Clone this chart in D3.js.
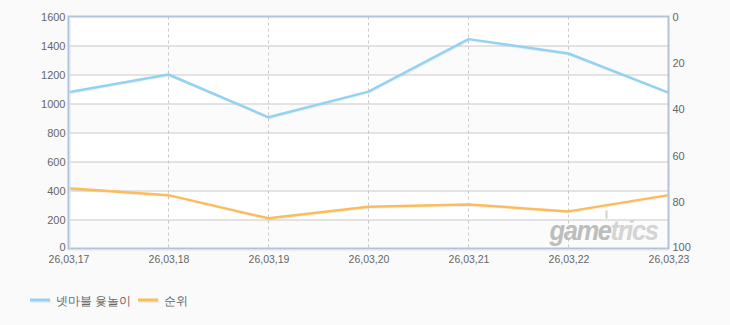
<!DOCTYPE html>
<html><head><meta charset="utf-8">
<script src="https://cdn.jsdelivr.net/npm/d3@7"></script>
<style>
html,body{margin:0;padding:0;background:#fafafa;}
svg{display:block;}
text{font-family:"Liberation Sans",Arial,sans-serif;}
</style></head>
<body>
<script>
const categories = ["26,03,17","26,03,18","26,03,19","26,03,20","26,03,21","26,03,22","26,03,23"];
const playersValues = [1078, 1200, 905, 1082, 1444, 1345, 1075];
const rankValues = [74, 77, 87, 82, 81, 84, 77];
const leftTicks = [0,200,400,600,800,1000,1200,1400,1600];
const rightTicks = [0,20,40,60,80,100];
const seriesNames = ["넷마블 윷놀이", "순위"];
const colors = ["#93d2f2", "#fbbd5b"];

const W = 730, H = 325;
const m = {left: 68.5, right: 61.5, top: 16.5, bottom: 76.5};
const pw = W - m.left - m.right, ph = H - m.top - m.bottom;

const svg = d3.select("body").append("svg").attr("width", W).attr("height", H);
svg.append("rect").attr("width", W).attr("height", H).attr("fill", "#fafafa");

const x = d3.scalePoint().domain(categories).range([0, pw]);
const yL = d3.scaleLinear().domain([0, 1600]).range([ph, 0]);
const yR = d3.scaleLinear().domain([0, 100]).range([0, ph]);

const g = svg.append("g").attr("transform", `translate(${m.left},${m.top})`);

// plot background with alternating bands
g.append("rect").attr("width", pw).attr("height", ph).attr("fill", "#ffffff");
for (let i = 0; i < leftTicks.length - 1; i++) {
  if (i % 2 === 0) {
    g.append("rect").attr("x", 0).attr("width", pw)
      .attr("y", yL(leftTicks[i+1])).attr("height", yL(leftTicks[i]) - yL(leftTicks[i+1]))
      .attr("fill", "#fbfbfb");
  }
}
// horizontal grid
g.selectAll(".hg").data(leftTicks.slice(1, -1)).join("line")
  .attr("x1", 0).attr("x2", pw)
  .attr("y1", d => Math.round(yL(d)) + 0.5).attr("y2", d => Math.round(yL(d)) + 0.5)
  .attr("stroke", "#c9c9c9").attr("stroke-width", 1);
// vertical dashed grid
g.selectAll(".vg").data(categories.slice(1, -1)).join("line")
  .attr("x1", d => Math.round(x(d))).attr("x2", d => Math.round(x(d)))
  .attr("y1", 0).attr("y2", ph)
  .attr("stroke", "#c8c8c8").attr("stroke-dasharray", "3,3").attr("stroke-width", 1);

// watermark
const wm = g.append("text").attr("x", pw - 11).attr("y", ph - 9)
  .attr("text-anchor", "end").attr("font-size", 27).attr("font-weight", "bold")
  .attr("font-style", "italic").attr("font-family", "'DejaVu Sans',sans-serif")
  .attr("letter-spacing", -1.5).attr("textLength", 108).attr("lengthAdjust", "spacingAndGlyphs");
wm.append("tspan").attr("fill", "#bdbdbd").text("game");
wm.append("tspan").attr("fill", "#d4d4d4").text("trics");
g.append("rect").attr("x", pw - 63).attr("y", ph - 38).attr("width", 2).attr("height", 8).attr("fill", "#d0d0d0");

// lines
const lineL = d3.line().x((d, i) => x(categories[i])).y(d => yL(d));
const lineR = d3.line().x((d, i) => x(categories[i])).y(d => yR(d));
[[playersValues, lineL, colors[0]], [rankValues, lineR, colors[1]]].forEach(([vals, ln, c]) => {
  g.append("path").datum(vals).attr("d", ln).attr("fill", "none")
    .attr("stroke", "#000").attr("stroke-opacity", 0.05).attr("stroke-width", 2.5)
    .attr("transform", "translate(1,1)");
  g.append("path").datum(vals).attr("d", ln).attr("fill", "none")
    .attr("stroke", c).attr("stroke-width", 2.5).attr("stroke-linejoin", "round");
});

// frame
g.append("rect").attr("x", 0).attr("y", 0).attr("width", pw).attr("height", ph)
  .attr("fill", "none").attr("stroke", "#b0c3d8").attr("stroke-width", 2);
g.append("line").attr("x1", 1.5).attr("x2", 1.5).attr("y1", 0).attr("y2", ph).attr("stroke", "#dbe3ec").attr("stroke-width", 1);
g.append("line").attr("x1", 0).attr("x2", pw).attr("y1", ph + 1.5).attr("y2", ph + 1.5).attr("stroke", "#dfe3e8").attr("stroke-width", 1);

// axes
const axL = d3.axisLeft(yL).tickValues(leftTicks).tickFormat(d3.format("d")).tickSize(0).tickPadding(3);
const axR = d3.axisRight(yR).tickValues(rightTicks).tickFormat(d3.format("d")).tickSize(0).tickPadding(4);
const axB = d3.axisBottom(x).tickSize(0).tickPadding(6);
function style(sel, fs) {
  sel.select(".domain").remove();
  sel.selectAll("text").attr("fill", "#666").attr("font-size", fs)
    .attr("font-family", "'Liberation Sans',Arial,sans-serif");
}
g.append("g").call(axL).call(style, 11).selectAll("g.tick").filter(d => d === 0).select("text").attr("dy", "0.2em");
g.append("g").attr("transform", `translate(${pw},0)`).call(axR).call(style, 11)
  .selectAll("g.tick").filter(d => d === 100).select("text").attr("dy", "0.2em");
g.append("g").attr("transform", `translate(0,${ph})`).call(axB).call(style, 10.5)
  .selectAll("text").attr("dy", "0.85em");

// legend
const leg = svg.append("g").attr("transform", "translate(30,300)");
const items = [{x: 0, name: seriesNames[0], c: colors[0]}, {x: 108, name: seriesNames[1], c: colors[1]}];
items.forEach(it => {
  leg.append("line").attr("x1", it.x + 1).attr("x2", it.x + 21).attr("y1", 1.5).attr("y2", 1.5)
    .attr("stroke", "#000").attr("stroke-opacity", 0.06).attr("stroke-width", 3);
  leg.append("line").attr("x1", it.x).attr("x2", it.x + 20).attr("y1", 0).attr("y2", 0)
    .attr("stroke", it.c).attr("stroke-width", 3);
  leg.append("text").attr("x", it.x + 26).attr("y", 4.5).attr("font-size", 12)
    .attr("font-family", "'Noto Sans CJK KR',sans-serif").attr("fill", "#666").text(it.name);
});
</script>
</body></html>
